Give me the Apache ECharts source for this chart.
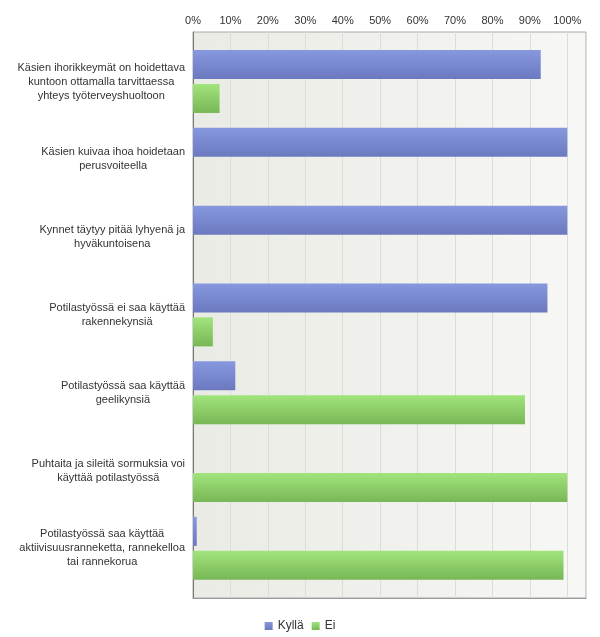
<!DOCTYPE html>
<html>
<head>
<meta charset="utf-8">
<script src="https://cdn.jsdelivr.net/npm/echarts@6/dist/echarts.min.js"></script>
<style>html,body{margin:0;padding:0;background:#fff;}#c{width:600px;height:637px;}</style>
</head>
<body>
<div id="c"></div>
<script>
var categories = [
  "Käsien ihorikkeymät on hoidettava\nkuntoon ottamalla tarvittaessa\nyhteys työterveyshuoltoon",
  "Käsien kuivaa ihoa hoidetaan\nperusvoiteella",
  "Kynnet täytyy pitää lyhyenä ja\nhyväkuntoisena",
  "Potilastyössä ei saa käyttää\nrakennekynsiä",
  "Potilastyössä saa käyttää\ngeelikynsiä",
  "Puhtaita ja sileitä sormuksia voi\nkäyttää potilastyössä",
  "Potilastyössä saa käyttää\naktiivisuusranneketta, rannekelloa\ntai rannekorua"
];
var seriesNames = ["Kyllä", "Ei"];
var kylla = [92.9, 100, 100, 94.7, 11.3, 0, 1.0];
var ei = [7.1, 0, 0, 5.3, 88.7, 100, 99.0];
var tickValues = [0, 10, 20, 30, 40, 50, 60, 70, 80, 90, 100];

var chart = echarts.init(document.getElementById('c'));
var font = 'Liberation Sans, Arial, sans-serif';
var blueGrad = new echarts.graphic.LinearGradient(0, 0, 0, 1, [
  {offset: 0, color: '#8798df'}, {offset: 1, color: '#6b79bf'}]);
var greenGrad = new echarts.graphic.LinearGradient(0, 0, 0, 1, [
  {offset: 0, color: '#a2e47c'}, {offset: 1, color: '#77b756'}]);
var bgGrad = new echarts.graphic.LinearGradient(0, 0, 1, 0, [
  {offset: 0, color: '#e9ebe4'}, {offset: 1, color: '#f7f7f5'}]);

chart.setOption({
  animation: false,
  textStyle: {fontFamily: font},
  legend: {
    data: seriesNames,
    top: 615,
    left: 'center',
    icon: 'rect',
    itemWidth: 8,
    itemHeight: 8,
    itemGap: 8,
    textStyle: {fontSize: 12, color: '#333', fontFamily: font}
  },
  grid: [
    {left: 193, right: 14, top: 32, height: 566, show: true, backgroundColor: bgGrad, borderColor: '#aaa', borderWidth: 1, containLabel: false},
    {left: 193, right: 14, top: 42.6, height: 544.6, containLabel: false}
  ],
  xAxis: [
    {
      gridIndex: 0, type: 'value', position: 'top', min: 0, max: 105, interval: 10,
      axisLine: {show: true, lineStyle: {color: '#999'}},
      axisTick: {show: false},
      splitLine: {show: true, lineStyle: {color: '#dcdcd8'}},
      axisLabel: {
        color: '#333', fontSize: 11, fontFamily: font, margin: 6,
        formatter: function (v) { return tickValues.indexOf(v) >= 0 ? v + '%' : ''; }
      }
    },
    {
      gridIndex: 1, type: 'value', min: 0, max: 105, interval: 10, show: false
    }
  ],
  yAxis: [
    {
      gridIndex: 0, type: 'value', min: 0, max: 1,
      axisLine: {show: true, onZero: false, lineStyle: {color: '#777'}},
      axisTick: {show: false}, axisLabel: {show: false}, splitLine: {show: false}
    },
    {
      gridIndex: 1, type: 'category', data: categories, inverse: true,
      axisLine: {show: false}, axisTick: {show: false},
      axisLabel: {
        margin: 8, color: '#333', fontSize: 11, fontFamily: font, lineHeight: 14, align: 'right',
        formatter: function (v) { return v.split('\n').map(function (l) { return '{c|' + l + '}'; }).join('\n'); },
        rich: {c: {align: 'center', fontSize: 11, lineHeight: 14, color: '#333', fontFamily: font}}
      }
    }
  ],
  series: [
    {name: seriesNames[0], type: 'bar', xAxisIndex: 1, yAxisIndex: 1, data: kylla, barWidth: 29, barGap: '17%', itemStyle: {color: blueGrad}},
    {name: seriesNames[1], type: 'bar', xAxisIndex: 1, yAxisIndex: 1, data: ei, barWidth: 29, barGap: '17%', itemStyle: {color: greenGrad}}
  ]
});
</script>
</body>
</html>
